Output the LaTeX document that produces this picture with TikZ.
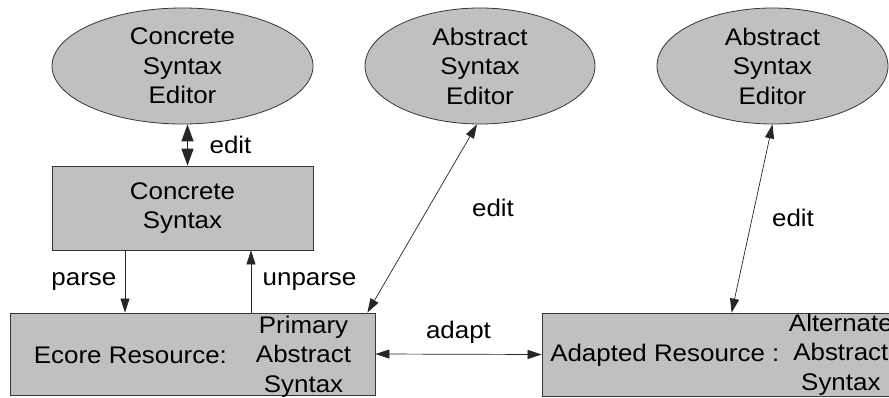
\documentclass[tikz,border=0pt]{standalone}
\usepackage{fontspec}
\setmainfont{Liberation Sans}[FakeStretch=1.08]
\usetikzlibrary{arrows.meta, shapes.geometric, calc}
\definecolor{boxgray}{RGB}{192,192,192}
\definecolor{edgegray}{RGB}{55,55,55}
\tikzset{
	editor/.style={ellipse, draw=edgegray, fill=boxgray, line width=0.8pt, inner sep=0pt,
		minimum width=#1, minimum height=116pt, align=center},
	block/.style={rectangle, draw=edgegray, fill=boxgray, line width=0.8pt, inner sep=0pt},
	link/.style={line width=0.7pt, draw=black!85}
}

\begin{document}
\begin{tikzpicture}[x=1pt, y=-1pt, >={Triangle[length=14pt,width=9pt]},
	font=\fontsize{24}{29.5}\selectfont]
\useasboundingbox (0,0) rectangle (889,397);
%========================
% Editors
%========================
\node[editor=261pt] (cse) at (182.5,66) {Concrete\\Syntax\\Editor};
\node[editor=230pt] (ase) at (480,66) {Abstract\\Syntax\\Editor};
\node[editor=231pt] (alt ase) at (772.5,66) {Abstract\\Syntax\\Editor};

%========================
% Resources
%========================
\node[block, align=center, minimum width=261pt, minimum height=84pt] (cs) at (182.5,208) {Concrete\\Syntax};
\node[block, minimum width=365pt, text height=50pt, text depth=32pt] (ecore) at (192.5,354)
	{Ecore Resource:\hspace{29pt}\begin{tabular}{@{}c@{}}Primary\\Abstract\\Syntax\end{tabular}};
\node[block, minimum width=359pt, text height=48pt, text depth=35pt] (adapted) at (721.5,354.5)
	{Adapted Resource : \begin{tabular}{@{}c@{}}Alternate\\Abstract\\Syntax\end{tabular}};

%========================
% Connectors
%========================
% edit concrete syntax
\draw[link, <->, line width=1.6pt, >={Triangle[length=17pt,width=12pt]}]
	($(cse.south)+(5,0)$) -- ($(cs.north)+(5,0)$) node[midway, right=18pt] (ledit) {edit};

% parse / unparse
\coordinate (parse top) at ($(cs.south)+(-57.5,0)$);
\coordinate (unparse top) at ($(cs.south)+(68.5,0)$);
\draw[link, ->] (parse top) -- (parse top |- ecore.north) node[midway, left=5pt] (lparse) {parse};
\draw[link, <-] (unparse top) -- (unparse top |- ecore.north) node[midway, right=8pt] (lunparse) {unparse};

% edit abstract syntax
\draw[link, <->] ($(ecore.north east)+(-8,0)$) -- ($(ase.south)+(-3,0)$);
\node (ledit2) at (493,208) {edit};
\draw[link, <->] ($(adapted.north west)+(190,0)$) -- (alt ase.south);
\node (ledit3) at (793,218) {edit};

% adapt
\draw[link, <->] (ecore.east) -- (adapted.west) node[midway, above=7pt] (ladapt) {adapt};
\end{tikzpicture}
\end{document}
